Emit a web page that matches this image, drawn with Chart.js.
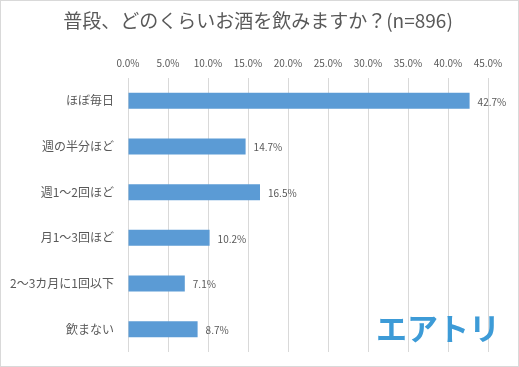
<!DOCTYPE html>
<html>
<head>
<meta charset="utf-8">
<script src="https://cdn.jsdelivr.net/npm/chart.js@4"></script>
<style>
  html, body { margin: 0; padding: 0; background: #fff; }
  #wrap { width: 519px; height: 367px; position: relative; }
</style>
</head>
<body>
<div id="wrap"><canvas id="drinkChart" width="519" height="367"></canvas></div>
<script>
// data
let categories = ["ほぼ毎日", "週の半分ほど", "週1～2回ほど", "月1～3回ほど", "2～3カ月に1回以下", "飲まない"];
let percents = [42.7, 14.7, 16.5, 10.2, 7.1, 8.7];
let titleText = "普段、どのくらいお酒を飲みますか？(n=896)";
let logoText = "エアトリ";

let textColor = "#595959";
let fontJP = "'Noto Sans CJK JP', 'Noto Sans', sans-serif";

// value labels to the right of each bar
let valueLabels = {
    id: "valueLabels",
    afterDatasetsDraw(chart) {
        let ctx = chart.ctx;
        let meta = chart.getDatasetMeta(0);
        ctx.save();
        ctx.font = "10px " + fontJP;
        ctx.fillStyle = textColor;
        ctx.textAlign = "left";
        ctx.textBaseline = "middle";
        meta.data.forEach((bar, i) => {
            ctx.fillText(percents[i].toFixed(1) + "%", bar.x + 8, bar.y + 1);
        });
        ctx.restore();
    }
};

// title, frame and logo
let titleFrameLogo = {
    id: "titleFrameLogo",
    afterDraw(chart) {
        let ctx = chart.ctx;
        ctx.save();
        ctx.strokeStyle = "#d9d9d9";
        ctx.lineWidth = 1;
        ctx.strokeRect(0.5, 0.5, chart.width - 1, chart.height - 1);

        ctx.font = "19px " + fontJP;
        ctx.fillStyle = textColor;
        ctx.textAlign = "center";
        ctx.textBaseline = "middle";
        ctx.fillText(titleText, 258, 21);

        ctx.font = "bold 31px " + fontJP;
        ctx.fillStyle = "#3d9bd7";
        ctx.fillText(logoText, 438, 328);
        ctx.restore();
    }
};

let chartContext = document.getElementById("drinkChart").getContext("2d");
new Chart(chartContext, {
    type: "bar",
    data: {
        labels: categories,
        datasets: [{
            data: percents,
            backgroundColor: "#5b9bd5",
            barPercentage: 0.7,
            categoryPercentage: 0.5
        }]
    },
    options: {
        indexAxis: "y",
        responsive: false,
        animation: false,
        layout: { padding: { left: 0, right: 31, top: 41, bottom: 15 } },
        plugins: {
            legend: { display: false },
            tooltip: { enabled: false },
            title: { display: false }
        },
        scales: {
            x: {
                position: "top",
                min: 0,
                max: 45,
                ticks: {
                    stepSize: 5,
                    color: textColor,
                    font: { family: fontJP, size: 10 },
                    padding: 9,
                    callback: v => v.toFixed(1) + "%"
                },
                grid: { color: "#d9d9d9", drawTicks: false },
                border: { display: false },
                afterFit: scale => { scale.height = 37; }
            },
            y: {
                ticks: {
                    color: textColor,
                    font: { family: fontJP, size: 12 },
                    padding: 14
                },
                grid: { display: false, drawTicks: false },
                border: { display: false },
                afterFit: scale => {
                    scale.width = 128;
                    scale.paddingTop = 0;
                    scale.paddingBottom = 0;
                }
            }
        }
    },
    plugins: [valueLabels, titleFrameLogo]
});
</script>
</body>
</html>
